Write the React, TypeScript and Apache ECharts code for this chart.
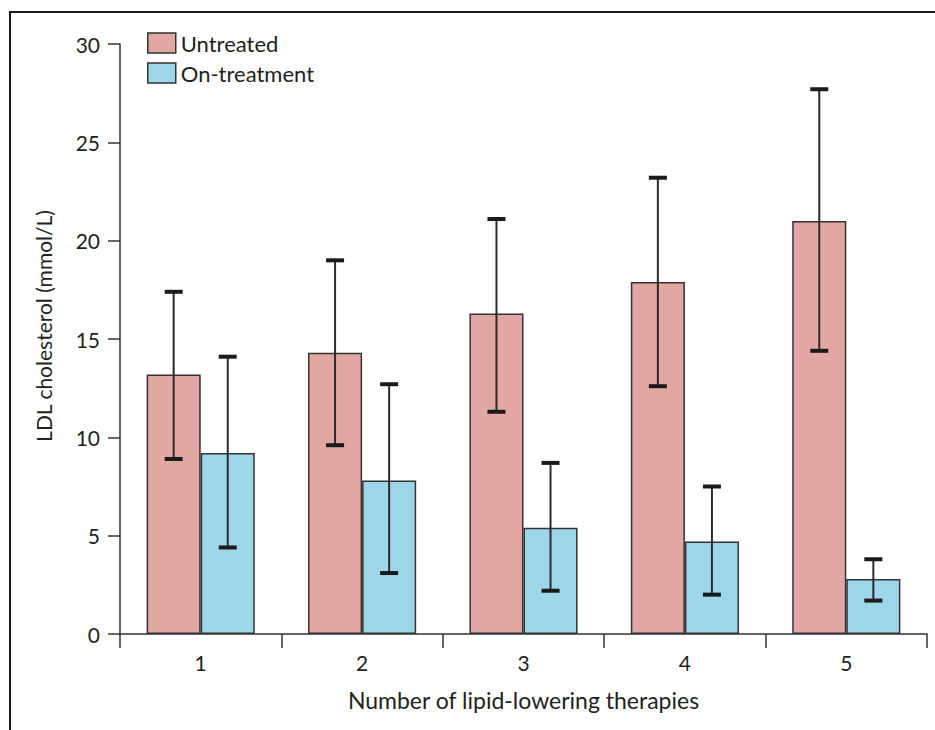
import React, { useEffect, useRef } from "react";
import * as echarts from "echarts";

const categories = ["1", "2", "3", "4", "5"];
const untreated = [13.2, 14.3, 16.3, 17.9, 21.0];
const untreatedLow = [8.9, 9.6, 11.3, 12.6, 14.4];
const untreatedHigh = [17.4, 19.0, 21.1, 23.2, 27.7];
const onTreatment = [9.2, 7.8, 5.4, 4.7, 2.8];
const onTreatmentLow = [4.4, 3.1, 2.2, 2.0, 1.7];
const onTreatmentHigh = [14.1, 12.7, 8.7, 7.5, 3.8];
const yTicks = [0, 5, 10, 15, 20, 25, 30];

const FONT = "Lato, 'Open Sans', sans-serif";
const TEXT = "#231f20";
const GAP = 0.33;

function errorSeries(name: string, low: number[], high: number[], side: number) {
  return {
    name: name + " error",
    type: "custom",
    z: 10,
    silent: true,
    data: categories.map((_, i) => [i, low[i], high[i]]),
    renderItem: (_params: any, api: any) => {
      const idx = api.value(0);
      const band = api.size([1, 0])[0];
      const barW = (band * (1 - GAP)) / 2;
      const cx = api.coord([idx, 0])[0] + (side * barW) / 2;
      const yLow = api.coord([idx, api.value(1)])[1];
      const yHigh = api.coord([idx, api.value(2)])[1];
      const cap = 9;
      return {
        type: "group",
        children: [
          {
            type: "line",
            shape: { x1: cx, y1: yLow, x2: cx, y2: yHigh },
            style: { stroke: "#2b2b2b", lineWidth: 2 },
          },
          {
            type: "line",
            shape: { x1: cx - cap, y1: yLow, x2: cx + cap, y2: yLow },
            style: { stroke: "#1a1a1a", lineWidth: 4 },
          },
          {
            type: "line",
            shape: { x1: cx - cap, y1: yHigh, x2: cx + cap, y2: yHigh },
            style: { stroke: "#1a1a1a", lineWidth: 4 },
          },
        ],
      };
    },
  };
}

export default function App() {
  const ref = useRef<HTMLDivElement>(null);
  useEffect(() => {
    if (!ref.current) return;
    const chart = echarts.init(ref.current, undefined, { renderer: "svg" });
    chart.setOption({
      animation: false,
      backgroundColor: "#ffffff",
      textStyle: { fontFamily: FONT, color: TEXT },
      graphic: [
        {
          type: "rect",
          shape: { x: 10, y: 12, width: 1000, height: 1000 },
          style: { fill: "none", stroke: "#1a1a1a", lineWidth: 2 },
          z: 0,
          silent: true,
        },
      ],
      legend: {
        orient: "vertical",
        left: 142,
        top: 27,
        itemWidth: 28,
        itemHeight: 20,
        itemGap: 8,
        icon: "rect",
        data: ["Untreated", "On-treatment"],
        textStyle: { fontFamily: FONT, fontSize: 22, lineHeight: 20, color: TEXT },
        itemStyle: { borderColor: "#333", borderWidth: 1.5 },
      },
      grid: { left: 120, right: 8, top: 44, bottom: 96 },
      xAxis: {
        type: "category",
        data: categories,
        name: "Number of lipid-lowering therapies",
        nameLocation: "middle",
        nameGap: 54,
        nameTextStyle: { fontFamily: FONT, fontSize: 23, color: TEXT },
        axisLine: { lineStyle: { color: "#333", width: 1.5 } },
        axisTick: { show: true, length: 14, lineStyle: { color: "#333", width: 1.5 } },
        axisLabel: { margin: 18, fontFamily: FONT, fontSize: 21, color: TEXT },
      },
      yAxis: {
        type: "value",
        min: 0,
        max: 30,
        interval: 5,
        name: "LDL cholesterol (mmol/L)",
        nameLocation: "middle",
        nameGap: 66,
        nameRotate: 90,
        nameTextStyle: { fontFamily: FONT, fontSize: 21, color: TEXT, padding: [0, 0, 0, 26] },
        splitLine: { show: false },
        axisLine: { show: true, lineStyle: { color: "#333", width: 1.5 } },
        axisTick: { show: true, length: 12, lineStyle: { color: "#333", width: 1.5 } },
        axisLabel: {
          margin: 20,
          fontFamily: FONT,
          fontSize: 21,
          color: TEXT,
          formatter: (v: number) => (yTicks.includes(v) ? String(v) : ""),
        },
      },
      series: [
        {
          name: "Untreated",
          type: "bar",
          data: untreated,
          barGap: "0%",
          barCategoryGap: GAP * 100 + "%",
          itemStyle: { color: "#e2a7a3", borderColor: "#333", borderWidth: 1.5 },
        },
        {
          name: "On-treatment",
          type: "bar",
          data: onTreatment,
          barGap: "0%",
          barCategoryGap: GAP * 100 + "%",
          itemStyle: { color: "#9dd6e9", borderColor: "#333", borderWidth: 1.5 },
        },
        errorSeries("Untreated", untreatedLow, untreatedHigh, -1),
        errorSeries("On-treatment", onTreatmentLow, onTreatmentHigh, 1),
      ],
    });
    return () => chart.dispose();
  }, []);
  return (
    <div
      ref={ref}
      style={{ position: "fixed", left: 0, top: 0, width: 935, height: 730 }}
    />
  );
}
